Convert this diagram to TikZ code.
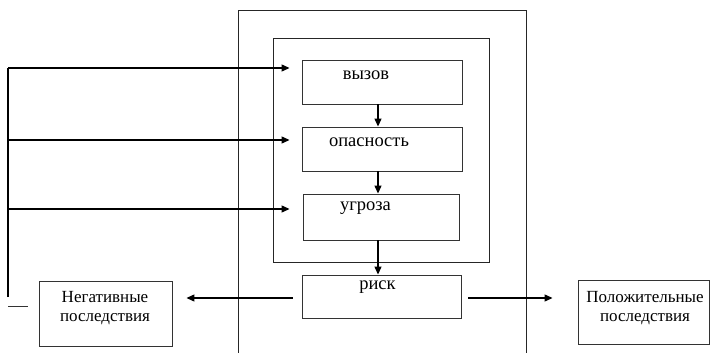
\documentclass[tikz,border=0pt]{standalone}
\usepackage{fontspec}
\setmainfont{Liberation Serif}
\usetikzlibrary{arrows.meta,positioning,calc}

\tikzset{
  box/.style={draw=black!80, line width=0.9pt, inner sep=0pt},
  arr/.style={-{Triangle[length=8pt,width=7pt]}, line width=1.3pt},
  txt/.style={font=\fontsize{18.5}{20}\selectfont, inner sep=0pt},
  ctxt/.style={font=\fontsize{17}{18.5}\selectfont, inner sep=0pt, align=center},
  wall/.style={draw=black!85, line width=0.9pt}
}

\begin{document}
\begin{tikzpicture}[x=1pt,y=-1pt]
    \useasboundingbox (0,0) rectangle (710,353);
    % outer and inner frames
    \draw[wall] (238,353) -- (238,10) -- (526,10) -- (526,353);
    \draw[wall] (273,38) rectangle (489,262);
    % chain of boxes
    \node[box, minimum width=160pt, minimum height=44pt] (vyzov) at (382,82) {};
    \node[box, minimum width=160pt, minimum height=44pt] (opasn) at (382,149) {};
    \node[box, minimum width=156pt, minimum height=46pt] (ugroza) at (381,217) {};
    \node[box, minimum width=159pt, minimum height=43pt] (risk) at (381.5,296.5) {};
    \node[box, minimum width=133pt, minimum height=65pt] (neg) at (105.5,313.5) {};
    \node[box, minimum width=131pt, minimum height=64pt] (pos) at (643.5,312) {};
    % texts
    \node[txt] (tvyzov) at (366,75) {вызов};
    \node[txt] (topasn) at (369,142) {опасность};
    \node[txt] (tugroza) at (365.5,208) {угроза};
    \node[txt] (trisk) at (377.5,287) {риск};
    \node[ctxt] (tneg) at (105,308) {Негативные\\последствия};
    \node[ctxt] (tpos) at (645,308) {Положительные\\последствия};
    % arrows down the chain
    \draw[arr] ([xshift=-4pt]vyzov.south) -- ([xshift=-4pt]opasn.north);
    \draw[arr] ([xshift=-4pt]opasn.south) -- ([xshift=-4pt]opasn.south |- ugroza.north);
    \draw[arr] ([xshift=-3pt]ugroza.south) -- ([xshift=-3pt]ugroza.south |- risk.north);
    % feedback line
    \coordinate (fb0) at (8,297);
    \coordinate (fb1) at (8,68);
    \coordinate (fb2) at (8,140);
    \coordinate (fb3) at (8,209);
    \draw[line width=1.2pt] (fb0) -- (fb1);
    \draw[arr, line width=1.2pt, shorten >=12pt] (fb1) -- (fb1 -| vyzov.west);
    \draw[arr, line width=1.2pt, shorten >=12pt] (fb2) -- (fb2 -| opasn.west);
    \draw[arr, line width=1.2pt, shorten >=13pt] (fb3) -- (fb3 -| ugroza.west);
    \coordinate (st) at (8,306);
    \draw[line width=0.8pt, black!80] (st) -- ++(20,0);
    % consequences
    \draw[arr, line width=1.2pt, shorten <=9pt, shorten >=14pt] ([yshift=-1.5pt]risk.west) -- ([yshift=-1.5pt]risk.west -| neg.east);
    \draw[arr, line width=1.2pt, shorten <=7pt, shorten >=25pt] ([yshift=-1.5pt]risk.east) -- ([yshift=-1.5pt]risk.east -| pos.west);
\end{tikzpicture}
\end{document}
